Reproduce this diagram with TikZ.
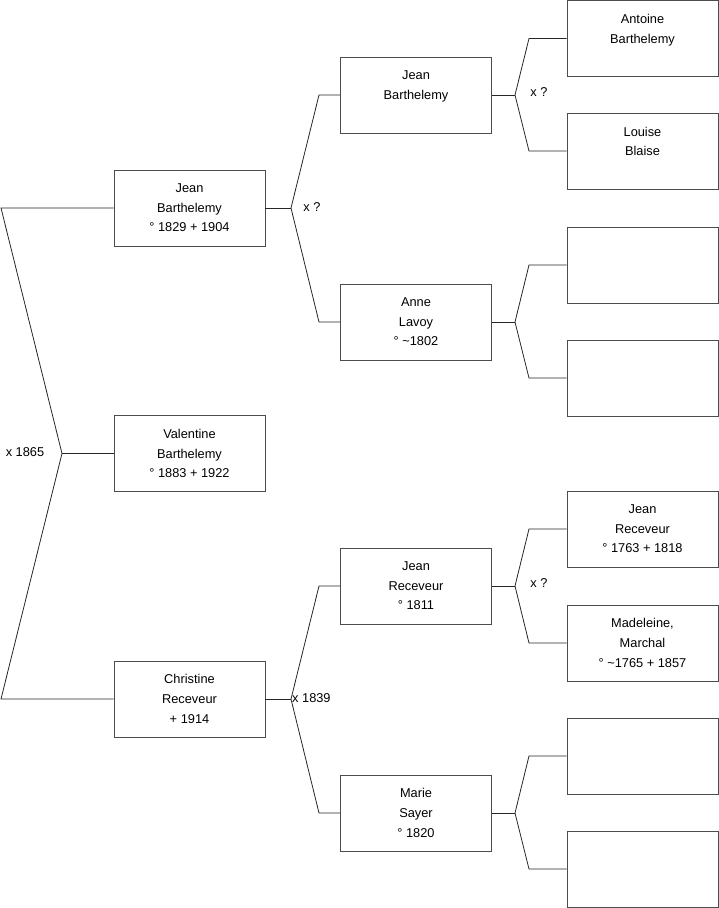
\documentclass[tikz,border=0pt]{standalone}
\usepackage{fontspec}
\setmainfont{Liberation Sans}
\usetikzlibrary{positioning, calc}

\begin{document}
\begin{tikzpicture}[
    x=1pt, y=-1pt,
    person/.style={rectangle, draw=black!70, thick, align=center, minimum width=151pt, minimum height=76pt, inner sep=0pt, font=\fontsize{12.8}{19.6}\selectfont},
    link/.style={draw=black!85, thick},
    union/.style={font=\fontsize{12.8}{14}\selectfont, inner sep=0pt}
]
    \useasboundingbox (0,0) rectangle (719,908);

    % generation 1
    \node[person] (jb1) at (189.5,208) {Jean\\Barthelemy\\° 1829 + 1904};
    \node[person] (vb) at (189.5,453.5) {Valentine\\Barthelemy\\° 1883 + 1922};
    \node[person] (cr1) at (189.5,699) {Christine\\Receveur\\+ 1914};

    % generation 2
    \node[person] (jb2) at (416,95) {Jean\\Barthelemy\\~};
    \node[person] (al) at (416,322) {Anne\\Lavoy\\° \textasciitilde 1802};
    \node[person] (jr2) at (416,586) {Jean\\Receveur\\° 1811};
    \node[person] (ms) at (416,813) {Marie\\Sayer\\° 1820};

    % generation 3
    \node[person] (ab) at (642.5,38.5) {Antoine\\Barthelemy\\~};
    \node[person] (lb) at (642.5,151) {Louise\\Blaise\\~};
    \node[person] (e1) at (642.5,265) {};
    \node[person] (e2) at (642.5,378) {};
    \node[person] (jr3) at (642.5,529) {Jean\\Receveur\\° 1763 + 1818};
    \node[person] (mm) at (642.5,643) {Madeleine,\\Marchal\\° \textasciitilde 1765 + 1857};
    \node[person] (e3) at (642.5,756) {};
    \node[person] (e4) at (642.5,869) {};

    % junctions
    \coordinate (ja) at (1,208);
    \coordinate (jm) at (62,453.5);
    \coordinate (jc) at (1,699);
    \coordinate (k1) at (291,208);
    \coordinate (k2) at (291,699);
    \coordinate (m1) at (515,95);
    \coordinate (m2) at (515,322);
    \coordinate (m3) at (515,586);
    \coordinate (m4) at (515,813);

    % unions
    \node[union] (u1) at (25,452) {x 1865};
    \node[union] (u2) at (312,207) {x ?};
    \node[union, anchor=west] (u3) at (292,698) {x 1839};
    \node[union] (u4) at (539,92) {x ?};
    \node[union] (u5) at (539,583) {x ?};

    % generation 1 links
    \draw[link] (jb1.west) -- (ja) -- (jm) -- (jc) -- (cr1.west);
    \draw[link] (jm) -- (vb.west);

    % generation 2 links
    \draw[link] (jb1.east) -- (k1);
    \draw[link] (k1) -- ++(28,-113) -- (jb2.west);
    \draw[link] (k1) -- ++(28,114) -- (al.west);
    \draw[link] (cr1.east) -- (k2);
    \draw[link] (k2) -- ++(28,-113) -- (jr2.west);
    \draw[link] (k2) -- ++(28,114) -- (ms.west);

    % generation 3 links
    \draw[link] (jb2.east) -- (m1);
    \draw[link] (m1) -- ++(14,-56.5) -- (ab.west);
    \draw[link] (m1) -- ++(14,56) -- (lb.west);
    \draw[link] (al.east) -- (m2);
    \draw[link] (m2) -- ++(14,-57) -- (e1.west);
    \draw[link] (m2) -- ++(14,56) -- (e2.west);
    \draw[link] (jr2.east) -- (m3);
    \draw[link] (m3) -- ++(14,-57) -- (jr3.west);
    \draw[link] (m3) -- ++(14,57) -- (mm.west);
    \draw[link] (ms.east) -- (m4);
    \draw[link] (m4) -- ++(14,-57) -- (e3.west);
    \draw[link] (m4) -- ++(14,56) -- (e4.west);
\end{tikzpicture}
\end{document}
